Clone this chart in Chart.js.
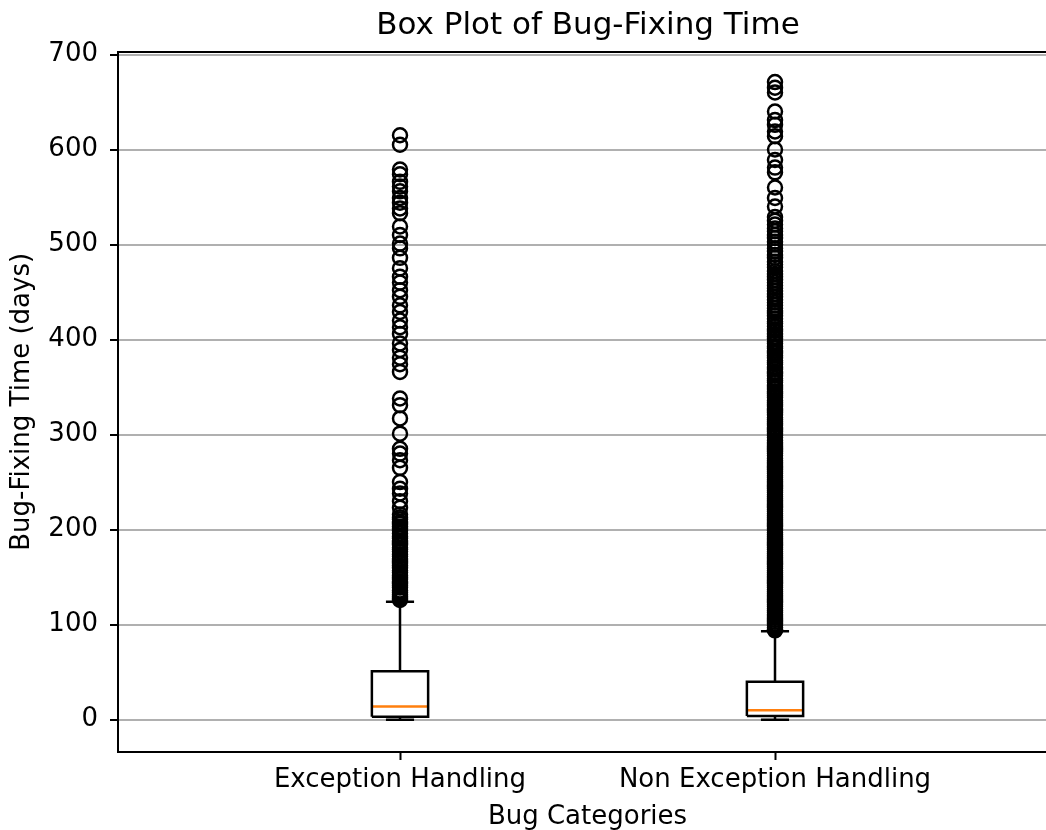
<!DOCTYPE html>
<html lang="en">
<head>
  <meta charset="UTF-8" />
  <title>Box Plot of Bug-Fixing Time</title>
  <script src="https://cdn.jsdelivr.net/npm/chart.js"></script>
  <style>
    html, body { margin: 0; padding: 0; background: #fff; overflow: hidden; }
    #wrap { width: 1176px; height: 830px; }
  </style>
</head>
<body>
  <div id="wrap"><canvas id="boxChart"></canvas></div>
  <script>
    // box plot summary
    const categories = ['Exception Handling', 'Non Exception Handling'];
    const positions = [1, 2];
    const q1 = [3, 4];
    const medians = [14, 10];
    const q3 = [51, 40];
    const whiskerLow = [0, 0];
    const whiskerHigh = [124, 93];
    const yTicks = [0, 100, 200, 300, 400, 500, 600, 700];

    const outliersEH = [
      615, 605, 579, 574, 566, 561, 556, 549, 544, 538, 533, 519, 510, 501, 496, 486,
      475, 466, 460, 452, 445, 436, 429, 420, 413, 406, 396, 389, 381, 374, 366, 338,
      331, 317, 301, 285, 280, 273, 265, 250, 243, 238, 230, 223, 216, 213, 211, 208,
      206, 203, 201, 199, 196, 193, 191, 188, 186, 184, 181, 179, 177, 174, 172, 169,
      167, 165, 162, 160, 157, 155, 152, 150, 148, 145, 143, 141, 139, 136, 134, 132,
      130, 128, 126
    ];
    const outliersNEH = [
      671, 665, 660, 640, 631, 626, 619, 614, 600, 589, 581, 576, 560, 549, 540, 529,
      525, 521, 517, 514, 510, 507, 503, 500, 496, 493, 489, 486, 482, 479, 476, 472,
      469, 466, 463, 460, 457, 454, 451, 448, 445, 442, 439, 436, 433, 430, 428, 425,
      422, 419, 417, 414, 411, 409, 406, 403, 401, 398, 396, 393, 391, 388, 386, 383,
      381, 378, 376, 374, 371, 369, 366, 364, 362, 359, 357, 355, 352, 350, 348, 345,
      343, 341, 339, 336, 334, 332, 330, 327, 325, 323, 321, 318, 316, 314, 312, 310,
      307, 305, 303, 301, 299, 297, 294, 292, 290, 288, 286, 284, 282, 280, 278, 275,
      273, 271, 269, 267, 265, 263, 261, 259, 257, 255, 253, 251, 249, 247, 245, 243,
      241, 239, 237, 235, 233, 231, 229, 227, 225, 223, 221, 219, 217, 215, 213, 211,
      209, 207, 205, 203, 201, 199, 197, 195, 193, 191, 189, 187, 185, 183, 181, 179,
      177, 175, 173, 171, 169, 167, 165, 163, 161, 159, 157, 155, 153, 151, 149, 147,
      145, 143, 141, 139, 137, 135, 133, 131, 129, 127, 125, 123, 121, 119, 117, 115,
      113, 111, 109, 107, 105, 103, 101, 99, 97, 95, 94
    ];
    const outliers = [outliersEH, outliersNEH];

    const boxWidth = 0.15;
    const capWidth = 0.075;
    const xMin = 0.248, xMax = 2.752;

    Chart.defaults.font.family = "'DejaVu Sans', sans-serif";
    Chart.defaults.color = '#000';

    const seg = (pts, color, width) => ({
      data: pts, showLine: true, pointRadius: 0, fill: false,
      borderColor: color, borderWidth: width, tension: 0
    });

    const datasets = [];
    positions.forEach((p, i) => {
      const hw = boxWidth / 2, hc = capWidth / 2;
      datasets.push(seg([{x: p, y: q1[i]}, {x: p, y: whiskerLow[i]}], '#000', 2.5));
      datasets.push(seg([{x: p, y: q3[i]}, {x: p, y: whiskerHigh[i]}], '#000', 2.5));
      datasets.push(seg([{x: p - hc, y: whiskerLow[i]}, {x: p + hc, y: whiskerLow[i]}], '#000', 2.5));
      datasets.push(seg([{x: p - hc, y: whiskerHigh[i]}, {x: p + hc, y: whiskerHigh[i]}], '#000', 2.5));
      datasets.push(seg([
        {x: p - hw, y: q1[i]}, {x: p + hw, y: q1[i]}, {x: p + hw, y: q3[i]},
        {x: p - hw, y: q3[i]}, {x: p - hw, y: q1[i]}
      ], '#000', 2.5));
      datasets.push(seg([{x: p - hw, y: medians[i]}, {x: p + hw, y: medians[i]}], '#ff7f0e', 2.5));
      datasets.push({
        data: outliers[i].map(v => ({x: p, y: v})),
        showLine: false, pointStyle: 'circle', pointRadius: 7,
        borderColor: '#000', borderWidth: 2.5, backgroundColor: 'rgba(0,0,0,0)'
      });
    });

    new Chart(document.getElementById('boxChart'), {
      type: 'scatter',
      data: { datasets },
      options: {
        responsive: true,
        maintainAspectRatio: false,
        animation: false,
        layout: { padding: 0 },
        plugins: {
          legend: { display: false },
          tooltip: { enabled: false },
          title: {
            display: true,
            text: 'Box Plot of Bug-Fixing Time',
            font: { size: 31, weight: 'normal', lineHeight: 1.15 },
            color: '#000',
            padding: { top: 8, bottom: 8 }
          }
        },
        scales: {
          x: {
            type: 'linear', position: 'bottom', min: xMin, max: xMax,
            afterBuildTicks: s => { s.ticks = positions.map(v => ({ value: v })); },
            afterFit: s => { s.height = 78; },
            ticks: {
              font: { size: 26 }, color: '#000', padding: 5, maxRotation: 0, autoSkip: false,
              callback: v => categories[positions.indexOf(v)]
            },
            grid: { drawOnChartArea: false, drawTicks: true, tickLength: 8, tickColor: '#000', tickWidth: 2 },
            border: { color: '#000', width: 2 },
            title: {
              display: true, text: 'Bug Categories', color: '#000',
              font: { size: 26, lineHeight: 1 }, padding: { top: 0, bottom: 0 }
            }
          },
          xTop: {
            type: 'linear', position: 'top', min: xMin, max: xMax, display: true,
            afterFit: s => { s.height = 0; },
            ticks: { display: false },
            grid: { display: false, drawTicks: false },
            border: { color: '#000', width: 2 }
          },
          y: {
            type: 'linear', position: 'left', min: -34, max: 703,
            afterBuildTicks: s => { s.ticks = yTicks.map(v => ({ value: v })); },
            afterFit: s => { s.width = 118; },
            ticks: { font: { size: 26 }, color: '#000', padding: 12 },
            grid: { color: '#b0b0b0', lineWidth: 2, drawTicks: true, tickLength: 8, tickColor: '#000', tickWidth: 2 },
            border: { color: '#000', width: 2 },
            title: {
              display: true, text: 'Bug-Fixing Time (days)', color: '#000',
              font: { size: 26, lineHeight: 1 }, padding: { top: 9, bottom: 0 }
            }
          },
          yRight: {
            type: 'linear', position: 'right', min: -34, max: 703, display: true,
            afterFit: s => { s.width = 119; },
            ticks: { display: false },
            grid: { display: false, drawTicks: false },
            border: { color: '#000', width: 2 }
          }
        }
      }
    });
  </script>
</body>
</html>
